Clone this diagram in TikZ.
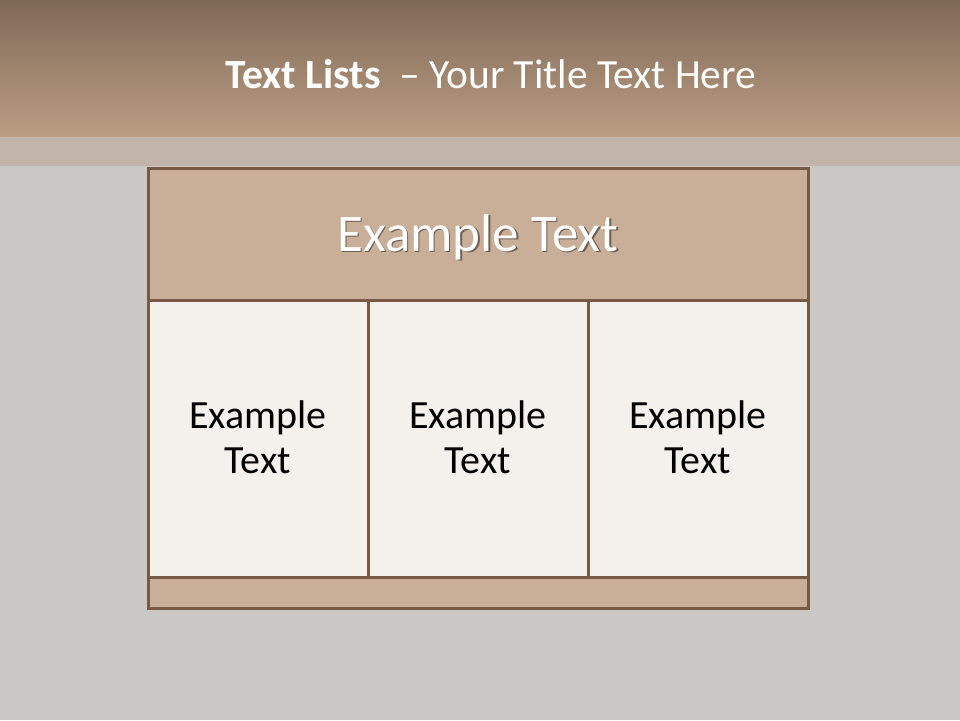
\documentclass[tikz,border=0pt]{standalone}
\usepackage{fontspec}
\setmainfont{Carlito}
\definecolor{bggray}{HTML}{CAC8C5}
\definecolor{bandtop}{HTML}{7F6A57}
\definecolor{bandbot}{HTML}{BC9D83}
\definecolor{strip}{HTML}{C3B4A9}
\definecolor{tan}{HTML}{C9AE98}
\definecolor{cream}{HTML}{F4F0EC}
\definecolor{edge}{HTML}{785A44}
\tikzset{
  cellbox/.style={draw=edge, line width=3pt, fill=cream, inner sep=0pt},
  tanbox/.style={draw=edge, line width=3pt, fill=tan, inner sep=0pt},
  celltext/.style={font=\fontsize{40}{45}\selectfont, align=center, text=black},
  hdrtext/.style={font=\fontsize{53}{60}\selectfont, text=white},
  hdrshadow/.style={font=\fontsize{53}{60}\selectfont, text=black, opacity=0.45},
  titletext/.style={font=\fontsize{41.5}{48}\selectfont, text=white, anchor=base}
}
\begin{document}
\begin{tikzpicture}[x=1pt,y=-1pt]
\useasboundingbox (0,0) rectangle (960,720);
\fill[bggray] (0,0) rectangle (960,720);
\shade[top color=bandtop, bottom color=bandbot] (0,0) rectangle (960,137);
\fill[strip] (0,137) rectangle (960,166);
\node[titletext] (title) at (491,88) {\textbf{Text Lists}\ \ – Your Title Text Here};
% table
\draw[tanbox] (148,168) rectangle (808,300);
\draw[cellbox] (148,300) rectangle (368,577);
\draw[cellbox] (368,300) rectangle (588,577);
\draw[cellbox] (588,300) rectangle (808,577);
\draw[tanbox] (148,577) rectangle (808,608);
\node[hdrshadow] (hdrs) at (479.5,238.5) {Example Text};
\node[hdrtext] (hdr) at (478,237) {Example Text};
\node[celltext] (c1) at (258,437) {Example\\Text};
\node[celltext] (c2) at (478,437) {Example\\Text};
\node[celltext] (c3) at (698,437) {Example\\Text};
\end{tikzpicture}
\end{document}
